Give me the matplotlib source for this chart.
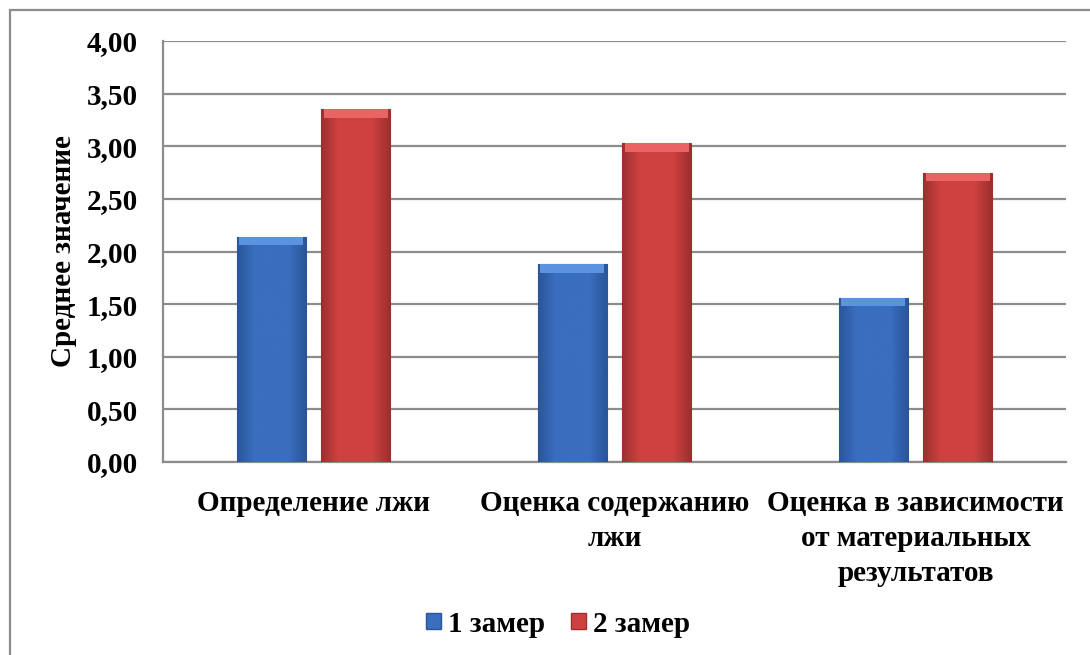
import matplotlib
matplotlib.use("Agg")
import matplotlib.pyplot as plt
import numpy as np
from matplotlib.patches import Rectangle, Patch
from matplotlib.colors import LinearSegmentedColormap

plt.rcParams['font.family'] = ['Liberation Serif', 'DejaVu Serif']
plt.rcParams['font.weight'] = 'bold'

categories = ["Определение лжи", "Оценка содержанию\nлжи", "Оценка в зависимости\nот материальных\nрезультатов"]
series_names = ["1 замер", "2 замер"]
zamer1 = [2.14, 1.88, 1.56]
zamer2 = [3.35, 3.03, 2.75]
yticks = [0.0, 0.5, 1.0, 1.5, 2.0, 2.5, 3.0, 3.5, 4.0]

colors = ["#3a6ebf", "#cf4141"]
dark = ["#2a569a", "#9e2f2f"]
light = ["#5b93e0", "#ea6464"]

fig = plt.figure(figsize=(10.9, 6.55), dpi=100)
ax = fig.add_axes([163/1090, 1-462/655, (1066-163)/1090, (462-41)/655])

x = np.arange(len(categories))
width = 0.229
offset = 0.141
fs = 21

for i, (vals, off) in enumerate(zip([zamer1, zamer2], [-offset, offset])):
    b = ax.bar(x + off, vals, width, color=colors[i], edgecolor=dark[i], linewidth=0.8, zorder=3)
    for rect in b:
        x0, y0 = rect.get_x(), rect.get_y()
        w, h = rect.get_width(), rect.get_height()
        cmap = LinearSegmentedColormap.from_list("g", [dark[i], colors[i], colors[i], colors[i], dark[i]])
        grad = np.linspace(0, 1, 64).reshape(1, -1)
        im = ax.imshow(grad, extent=[x0, x0 + w, y0, y0 + h], aspect='auto', cmap=cmap, zorder=3.5)
        im.set_clip_path(rect)
        ax.add_patch(Rectangle((x0 + w * 0.03, y0 + h - 0.08), w * 0.94, 0.08, color=light[i], lw=0, zorder=4))

ax.set_xlim(-0.5, 2.5)
ax.set_ylim(0, 4)
ax.set_yticks(yticks)
ax.set_yticklabels([f"{v:.2f}".replace('.', ',') for v in yticks], fontsize=fs, fontweight='bold')
ax.set_xticks(x)
ax.set_xticklabels(categories, fontsize=fs, fontweight='bold', linespacing=1.38, va='top')
ax.tick_params(axis='both', length=0)
ax.tick_params(axis='y', pad=18)
ax.tick_params(axis='x', pad=20)
ax.grid(axis='y', color='#8c8c8c', linewidth=1.6, zorder=0)
ax.set_axisbelow(True)
for s in ['top', 'right']:
    ax.spines[s].set_visible(False)
ax.spines['left'].set_color('#8c8c8c')
ax.spines['left'].set_linewidth(1.6)
ax.spines['bottom'].set_color('#8c8c8c')
ax.spines['bottom'].set_linewidth(1.6)
ax.set_ylabel("Среднее значение", fontsize=fs, fontweight='bold')
ax.yaxis.set_label_coords(-0.0953, 0.5)

handles = [Patch(facecolor=colors[i], edgecolor=dark[i]) for i in range(2)]
fig.legend(handles, series_names, loc='center', bbox_to_anchor=(558/1090, 1-624/655), ncol=2,
           frameon=False, prop={'weight': 'bold', 'size': fs},
           handlelength=0.5, handleheight=0.5, handletextpad=0.25, columnspacing=0.9)

fig.add_artist(Rectangle((10/1090, -0.1), 1.2, 1 - 10/655 + 0.1, transform=fig.transFigure,
                         fill=False, edgecolor='#8c8c8c', linewidth=1.6))

fig.savefig("out.png", dpi=100)
